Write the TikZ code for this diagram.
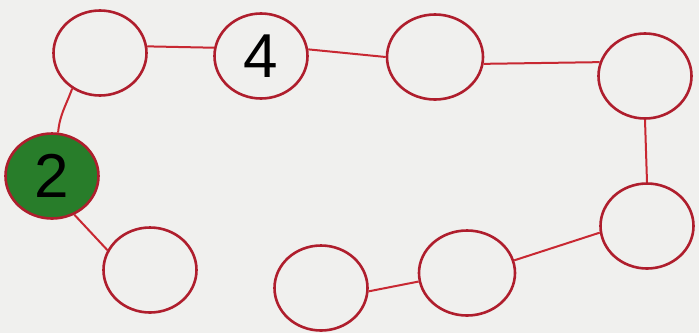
\documentclass[tikz,border=0pt]{standalone}
\usepackage{fontspec}
\usetikzlibrary{shapes.geometric}
\setmainfont{Liberation Sans}
\definecolor{ringred}{RGB}{175,30,45}
\definecolor{linkred}{RGB}{200,40,50}
\definecolor{bg}{RGB}{240,240,238}
\definecolor{leaf}{RGB}{40,125,42}
\begin{document}
\begin{tikzpicture}[x=1pt,y=-1pt,
  ring/.style={draw=ringred,line width=2.6pt,ellipse,minimum width=93pt,minimum height=85pt,inner sep=0pt,font=\fontsize{62}{62}\selectfont},
  link/.style={draw=linkred,line width=2pt}]
\useasboundingbox[fill=bg] (0,0) rectangle (699,333);
\node[ring] (a) at (100,53) {};
\node[ring] (b) at (261,56) {4};
\node[ring,minimum width=96pt] (c) at (435,57) {};
\node[ring] (d) at (645,76) {};
\node[ring] (e) at (647,226) {};
\node[ring,minimum width=96pt] (f) at (467,273) {};
\node[ring] (g) at (321,288) {};
\node[ring] (h) at (150,270) {};
\node[ring,fill=leaf] (k) at (52,176) {2};
\draw[link] (a.8) -- (b.170);
\draw[link] (b.8) -- (c.180);
\draw[link] (c.-8) -- (d.163);
\draw[link] (d.south) -- (e.north);
\draw[link] (e.188) -- (f.15);
\draw[link] (f.190) -- (g.-4);
\draw[link] (a.-128) to[out=-110,in=85] (k.82);
\draw[link] (k.-60) -- (h.155);
\end{tikzpicture}
\end{document}
